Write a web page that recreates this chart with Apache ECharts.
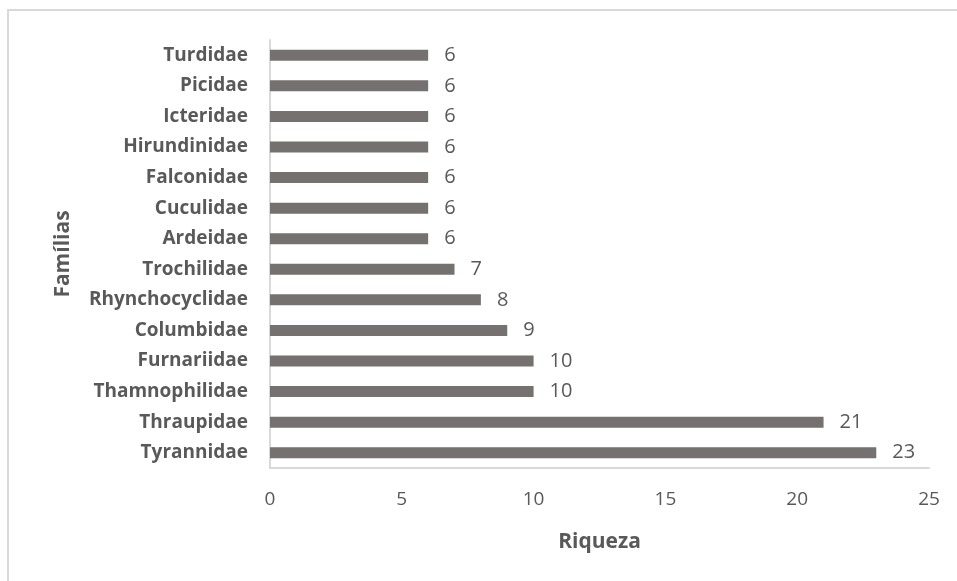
<!DOCTYPE html>
<html>
<head>
<meta charset="utf-8">
<script src="https://cdn.jsdelivr.net/npm/echarts@6/dist/echarts.min.js"></script>
<style>
	html, body { margin: 0; padding: 0; background: #fff; }
	#chart { width: 957px; height: 581px; }
</style>
</head>
<body>
<div id="chart"></div>
<script>
// bottom to top, as the category axis draws them
var familias = [ 'Tyrannidae', 'Thraupidae', 'Thamnophilidae', 'Furnariidae',
		'Columbidae', 'Rhynchocyclidae', 'Trochilidae', 'Ardeidae', 'Cuculidae',
		'Falconidae', 'Hirundinidae', 'Icteridae', 'Picidae', 'Turdidae' ];
var riqueza = [ 23, 21, 10, 10, 9, 8, 7, 6, 6, 6, 6, 6, 6, 6 ];
var xTicks = [ 0, 5, 10, 15, 20, 25 ];

var myChart = echarts.init(document.getElementById('chart'));

myChart.setOption({
	animation : false,
	backgroundColor : '#fff',
	textStyle : {
		fontFamily : 'Open Sans'
	},
	graphic : [ {
		type : 'polyline',
		shape : {
			points : [ [ 8, 581 ], [ 8, 10 ], [ 957, 10 ] ]
		},
		style : {
			stroke : '#d9d9d9',
			lineWidth : 2,
			fill : null
		}
	} ],
	grid : {
		left : 270,
		right : 28,
		top : 40,
		bottom : 113
	},
	xAxis : {
		type : 'value',
		min : xTicks[0],
		max : xTicks[xTicks.length - 1],
		interval : 5,
		name : 'Riqueza',
		nameLocation : 'middle',
		nameGap : 64,
		nameTextStyle : {
			fontSize : 21,
			fontWeight : 'bold',
			color : '#595959'
		},
		axisLine : {
			show : true,
			lineStyle : {
				color : '#d9d9d9',
				width : 2
			}
		},
		axisTick : {
			show : false
		},
		splitLine : {
			show : false
		},
		axisLabel : {
			fontSize : 19,
			color : '#595959',
			margin : 22
		}
	},
	yAxis : {
		type : 'category',
		data : familias,
		name : 'Famílias',
		nameLocation : 'middle',
		nameGap : 196,
		nameRotate : 90,
		nameTextStyle : {
			fontSize : 21,
			fontWeight : 'bold',
			color : '#595959'
		},
		axisLine : {
			show : true,
			lineStyle : {
				color : '#d9d9d9',
				width : 2
			}
		},
		axisTick : {
			show : false
		},
		axisLabel : {
			fontSize : 19,
			fontWeight : 'bold',
			color : '#595959',
			margin : 22
		}
	},
	series : [ {
		type : 'bar',
		data : riqueza,
		barWidth : 11,
		itemStyle : {
			color : '#767171'
		},
		label : {
			show : true,
			position : 'right',
			distance : 16,
			fontSize : 20,
			color : '#595959'
		}
	} ]
});
</script>
</body>
</html>
